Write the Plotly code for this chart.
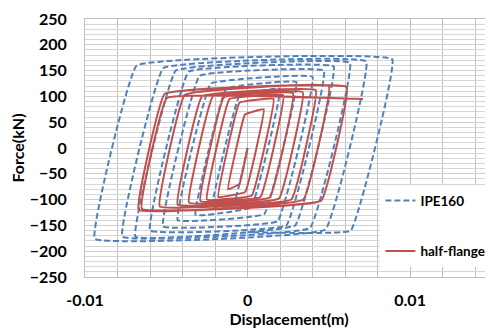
import plotly.graph_objects as go

# ---- Data ----
# IPE160 hysteresis path: displacement (m) and force (kN), corner points of each cycle
ipe_disp = [0.0, -0.00077, -0.0022, -0.00052, 0.0020,
            0.00023, -0.0032, -0.00132, 0.0030,
            0.00103, -0.0043, -0.00226, 0.0040,
            0.00185, -0.0052, -0.00295, 0.0047,
            0.00239, -0.0060, -0.00363, 0.0053,
            0.00293, -0.0069, -0.00442, 0.0063,
            0.00384, -0.0077, -0.00518, 0.0073,
            0.00479, -0.0094, -0.00682, 0.0089,
            0.00635, 0.0]
ipe_force = [0, -100, -118, 100, 115,
             -115, -130, 115, 128,
             -128, -140, 125, 138,
             -142, -152, 140, 150,
             -150, -160, 148, 158,
             -150, -172, 150, 165,
             -155, -172, 155, 168,
             -158, -176, 160, 172,
             -160, -163]

# half-flange hysteresis path
hf_disp = [0.0, -0.0005, -0.0012, -0.00016, 0.0010,
           -0.00014, -0.0018, -0.00049, 0.0016,
           0.00026, -0.0025, -0.00111, 0.0022,
           0.00079, -0.0029, -0.00146, 0.0028,
           0.00136, -0.0036, -0.00213, 0.0034,
           0.00193, -0.0043, -0.0028, 0.0042,
           0.00269, -0.0054, -0.00386, 0.0050,
           0.00343, -0.0067, -0.00509, 0.0061,
           0.00453, -0.0065, -0.00496, 0.0071]
hf_force = [0, -70, -80, 65, 75,
            -85, -95, 88, 95,
            -92, -100, 95, 102,
            -95, -103, 98, 106,
            -96, -106, 100, 108,
            -98, -110, 100, 112,
            -100, -113, 103, 120,
            -100, -120, 105, 118,
            -102, -118, 97, 95]

x_ticks = [-0.01, 0, 0.01]
x_tick_labels = ["-0.01", "0", "0.01"]
y_ticks = [-250, -200, -150, -100, -50, 0, 50, 100, 150, 200, 250]

FONT = "Lato"

fig = go.Figure()
fig.add_trace(go.Scatter(
    x=ipe_disp, y=ipe_force, mode="lines", name="IPE160", legendgroup="a",
    line=dict(color="#4F81BD", width=2, dash="6px,3px", shape="spline", smoothing=0.2),
))
fig.add_trace(go.Scatter(
    x=hf_disp, y=hf_force, mode="lines", name="half-flange", legendgroup="b",
    line=dict(color="#C0504D", width=2, shape="spline", smoothing=0.2),
))

# page body has an 8px margin, so the figure is offset by (8, 8)
fig.update_layout(
    width=485, height=323,
    margin=dict(l=77, r=0, t=11, b=54),
    paper_bgcolor="white", plot_bgcolor="white",
    font=dict(family=FONT, size=16, color="#000000"),
    showlegend=True,
    legend=dict(
        x=0.724, y=0.356, xanchor="left", yanchor="top",
        bgcolor="white", borderwidth=0,
        font=dict(family=FONT, size=13.5, weight="bold", color="#000000"),
        tracegroupgap=30, itemwidth=30,
    ),
)
fig.update_xaxes(
    range=[-0.01, 0.0151], automargin=False,
    tickvals=x_ticks, ticktext=x_tick_labels,
    tickfont=dict(family=FONT, size=16, weight="bold"),
    ticklabelstandoff=9,
    showgrid=True, gridcolor="#c0c0c0", gridwidth=1,
    minor=dict(dtick=0.002, tick0=0, showgrid=True, gridcolor="#c0c0c0", gridwidth=1),
    showline=True, linecolor="#bfbfbf", mirror=True,
    zeroline=False,
    title=dict(text="Displacement(m)", font=dict(family=FONT, size=16, weight="bold"), standoff=2),
)
fig.update_yaxes(
    range=[-250, 250], automargin=False,
    tickvals=y_ticks,
    tickfont=dict(family=FONT, size=16, weight="bold"),
    ticklabelstandoff=14,
    showgrid=True, gridcolor="#cfcfcf", gridwidth=1,
    minor=dict(dtick=10, tick0=0, showgrid=True, gridcolor="#d6d6d6", gridwidth=1),
    showline=True, linecolor="#bfbfbf", mirror=True,
    zeroline=False,
    title=dict(text="Force(kN)", font=dict(family=FONT, size=16, weight="bold"), standoff=10),
)

fig.write_html("out.html")
